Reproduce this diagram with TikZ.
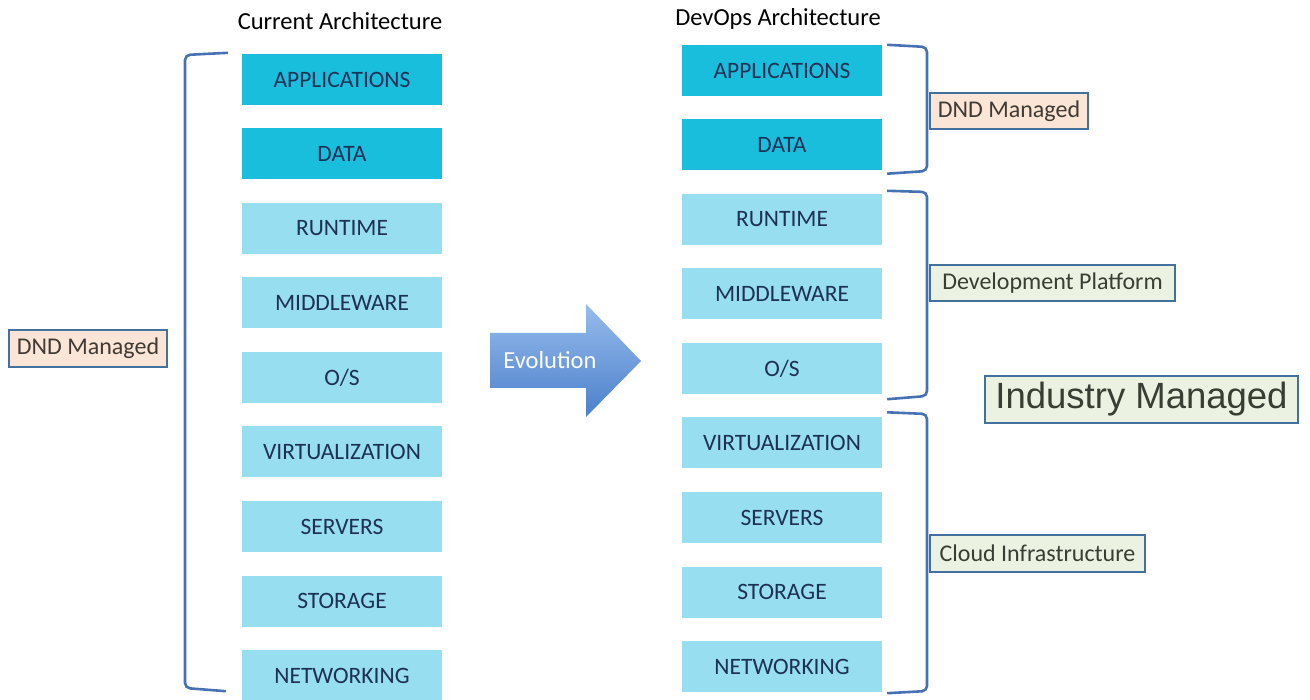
\documentclass[tikz,border=0pt]{standalone}
\usepackage{fontspec}
\setmainfont{Carlito}
\newfontfamily\arialfont{Liberation Sans}
\usetikzlibrary{calc}

\definecolor{darkcyan}{RGB}{24,190,220}
\definecolor{lightcyan}{RGB}{150,222,240}
\definecolor{layertext}{RGB}{30,48,85}
\definecolor{bracketblue}{RGB}{70,114,180}
\definecolor{labelborder}{RGB}{65,113,156}
\definecolor{peach}{RGB}{251,229,214}
\definecolor{palegreen}{RGB}{236,242,226}
\definecolor{browntext}{RGB}{64,58,52}
\definecolor{greentext}{RGB}{56,62,50}
\definecolor{arrowtop}{RGB}{150,188,236}
\definecolor{arrowbottom}{RGB}{76,128,204}

\tikzset{
  layer/.style={minimum width=200pt, minimum height=51pt, inner sep=0pt,
    text=layertext, font=\fontsize{23.5}{26}\selectfont},
  userlayer/.style={layer, fill=darkcyan},
  infralayer/.style={layer, fill=lightcyan},
  brk/.style={draw=bracketblue, line width=2.6pt, rounded corners=5pt},
  tag/.style={draw=labelborder, line width=2.2pt, inner sep=0pt,
    minimum height=36pt, font=\fontsize{24}{28}\selectfont},
  dndtag/.style={tag, fill=peach, text=browntext},
  greentag/.style={tag, fill=palegreen, text=greentext},
  heading/.style={font=\fontsize{24.5}{28}\selectfont, text=black}
}

\begin{document}
\begin{tikzpicture}[x=1pt, y=-1pt]
\useasboundingbox (0,0) rectangle (1310,700);

% column headings
\node[heading] (tcur) at (340,21) {Current Architecture};
\node[heading] (tdev) at (778,19) {DevOps Architecture};

% current architecture stack
\node[userlayer]  (lapp)  at (342,79.5)  {APPLICATIONS};
\node[userlayer]  (ldata) at (342,154)   {DATA};
\node[infralayer] (lrun)  at (342,228.5) {RUNTIME};
\node[infralayer] (lmid)  at (342,303)   {MIDDLEWARE};
\node[infralayer] (los)   at (342,377.5) {O/S};
\node[infralayer] (lvirt) at (342,452)   {VIRTUALIZATION};
\node[infralayer] (lsrv)  at (342,526.5) {SERVERS};
\node[infralayer] (lsto)  at (342,601)   {STORAGE};
\node[infralayer] (lnet)  at (342,675.5) {NETWORKING};

% devops architecture stack
\node[userlayer]  (rapp)  at (782,70.5)  {APPLICATIONS};
\node[userlayer]  (rdata) at (782,145)   {DATA};
\node[infralayer] (rrun)  at (782,219.5) {RUNTIME};
\node[infralayer] (rmid)  at (782,294)   {MIDDLEWARE};
\node[infralayer] (ros)   at (782,368.5) {O/S};
\node[infralayer] (rvirt) at (782,443)   {VIRTUALIZATION};
\node[infralayer] (rsrv)  at (782,517.5) {SERVERS};
\node[infralayer] (rsto)  at (782,592)   {STORAGE};
\node[infralayer] (rnet)  at (782,666.5) {NETWORKING};

% left bracket spanning the whole current stack
\coordinate (lbt) at ($(lapp.north west)+(-14,-1)$);
\coordinate (lbb) at ($(lnet.south west)+(-16,-10)$);
\draw[brk] (lbt) -- (185,55) -- (185,688) -- (lbb);

% right brackets grouping the devops stack
\coordinate (b1t) at ($(rapp.north east)+(5,0)$);
\coordinate (b1b) at ($(rdata.south east)+(5,3)$);
\draw[brk] (b1t) -- (927,47) -- (927,171) -- (b1b);
\coordinate (b2t) at ($(rrun.north east)+(5,-3)$);
\coordinate (b2b) at ($(ros.south east)+(5,5)$);
\draw[brk] (b2t) -- (927,192) -- (927,396) -- (b2b);
\coordinate (b3t) at ($(rvirt.north east)+(5,-5)$);
\coordinate (b3b) at ($(rnet.south east)+(5,1)$);
\draw[brk] (b3t) -- (927,414) -- (927,691) -- (b3b);

% management labels
\node[dndtag, minimum width=158pt, minimum height=37pt] (ldnd) at (88,348.5) {DND Managed};
\node[dndtag, minimum width=158pt] (rdnd) at (1009,111) {DND Managed};
\node[greentag, minimum width=245pt] (rplat) at (1052.5,283) {Development Platform};
\node[greentag, minimum width=215pt, minimum height=37pt] (rcloud) at (1037.5,553.5) {Cloud Infrastructure};
\node[draw=labelborder, line width=2.2pt, fill=palegreen, text=greentext,
      minimum width=313pt, minimum height=47pt, inner sep=2pt,
      font=\arialfont\fontsize{36.5}{40}\selectfont] (ind) at (1141.5,399.5) {Industry Managed};

% evolution arrow
\shade[top color=arrowtop, bottom color=arrowbottom]
  (490,333) -- (586,333) -- (586,304) -- (641,361) -- (586,417) -- (586,388) -- (490,388) -- cycle;
\node[text=white, font=\fontsize{24.5}{28}\selectfont] (evo) at (550,360) {Evolution};
\end{tikzpicture}
\end{document}
